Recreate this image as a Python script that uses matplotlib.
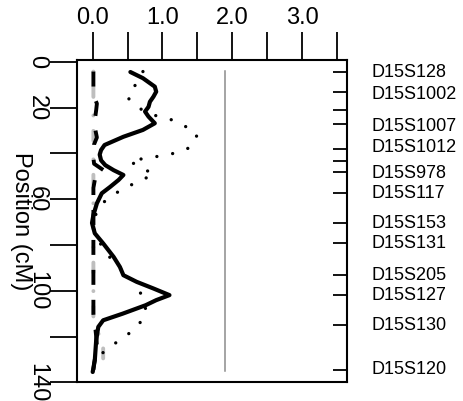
import matplotlib
matplotlib.use("Agg")
import matplotlib.pyplot as plt
import matplotlib.transforms as mtransforms
import numpy as np

plt.rcParams['font.family'] = ['Liberation Sans', 'DejaVu Sans']

# ---- data ----
pos_solid = [4.4, 7.1, 10.8, 13.0, 15.2, 17.4, 19.6, 21.7, 23.9, 26.8, 29.7, 32.7, 36.3,
             38.5, 40.5, 43.0, 45.1, 47.3, 49.4, 51.6, 54.6, 57.4, 61.8, 66.9, 70.4, 74.9,
             79.3, 85.2, 89.6, 93.2, 96.1, 99.0, 101.9, 104.1, 106.3, 110.0, 112.9, 115.8,
             121.6, 130.4, 135.5]
lod_solid = [0.54, 0.72, 0.89, 0.91, 0.87, 0.82, 0.80, 0.75, 0.80, 0.89, 0.72, 0.44, 0.17,
             0.12, 0.10, 0.12, 0.18, 0.30, 0.44, 0.37, 0.25, 0.13, 0.06, 0.01, -0.01, 0.03,
             0.15, 0.30, 0.39, 0.44, 0.63, 0.87, 1.10, 0.91, 0.76, 0.43, 0.15, 0.08,
             0.05, 0.03, 0.00]

pos_dot = [4.2, 10.1, 15.6, 20.3, 23.2, 24.9, 27.6, 31.6, 37.1, 39.7, 41.0, 42.1, 43.3,
           46.1, 49.0, 52.1, 55.0, 58.5, 63.0, 69.5, 76.1, 81.5, 87.4, 96.8, 102.9, 109.2,
           115.4, 119.9, 123.8, 128.2, 132.0]
lod_dot = [0.72, 0.61, 0.50, 0.67, 0.87, 1.10, 1.30, 1.50, 1.42, 1.20, 0.99, 0.75, 0.53,
           0.68, 0.88, 0.67, 0.46, 0.27, 0.09, 0.01, 0.03, 0.16, 0.29, 0.63, 0.71, 0.77,
           0.65, 0.47, 0.28, 0.10, 0.02]

pos_dash = [4.2, 12, 16, 18.2, 21, 23.3, 27, 30, 33, 36, 42, 44.5, 47.4, 50, 55, 65, 80,
            95, 110, 114, 117, 120, 124, 128, 132, 134.5]
lod_dash = [0.01, 0.01, 0.03, 0.06, 0.05, 0.04, 0.02, 0.04, 0.06, 0.02, 0.01, 0.02, 0.16,
            0.04, 0.01, 0.01, 0.01, 0.01, 0.01, 0.02, 0.04, 0.05, 0.06, 0.04, 0.02, 0.01]

pos_dd = [4.2, 60, 100, 112, 116, 118, 121, 125, 130, 134.5]
lod_dd = [0.01, 0.01, 0.01, 0.01, 0.03, 0.07, 0.12, 0.15, 0.15, 0.14]

threshold = 1.9
thr_range = [4.0, 135.0]

marker_pos = [4.2, 13.3, 21.0, 27.3, 38.1, 43.3, 48.3, 57.2, 70.6, 79.1, 93.3, 102.0,
              115.1, 134.5]
label_pos = [4.7, 14.4, 28.0, 37.6, 48.6, 57.3, 70.4, 79.2, 93.2, 101.9, 115.1, 134.3]
label_txt = ["D15S128", "D15S1002", "D15S1007", "D15S1012", "D15S978", "D15S117",
             "D15S153", "D15S131", "D15S205", "D15S127", "D15S130", "D15S120"]

x_ticks = [0.0, 0.5, 1.0, 1.5, 2.0, 2.5, 3.0, 3.5]
x_ticklabels = ["0.0", "", "1.0", "", "2.0", "", "3.0", ""]
y_ticks = [0, 20, 40, 60, 80, 100, 120, 140]
y_ticklabels = ["0", "20", "", "60", "", "100", "", "140"]

# ---- figure ----
fig = plt.figure(figsize=(4.64, 4.01), dpi=100)
ax = fig.add_axes([77 / 464, 1 - 382.3 / 401, (346.7 - 77) / 464, (382.3 - 60) / 401])

ax.plot([threshold, threshold], thr_range, color='#8c8c8c', lw=1.1)

ax.plot(lod_dd, pos_dd, color='#bebebe', lw=2.8, dash_capstyle='round',
        linestyle=(0, (0.01, 3.95, 2.56, 4.77)))
ax.plot(lod_dash, pos_dash, color='black', lw=2.8, dash_capstyle='butt',
        linestyle=(0, (3.85, 3.85)))
ax.plot(lod_dot, pos_dot, color='black', lw=2.4, dash_capstyle='round',
        linestyle=(0, (0.01, 4.8)))
ax.plot(lod_solid, pos_solid, color='black', lw=3.0, solid_capstyle='round',
        solid_joinstyle='round')

ax.set_xlim(-0.225, 3.64)
ax.set_ylim(140, -0.85)

for s in ax.spines.values():
    s.set_linewidth(1.5)

ax.xaxis.tick_top()
ax.set_xticks(x_ticks)
ax.set_xticklabels(x_ticklabels)
ax.tick_params(axis='x', which='major', direction='out', length=20, width=1.3, pad=2,
               labelsize=17, top=True, bottom=False)
ax.tick_params(axis='x', which='minor', top=False, bottom=False)

ax.set_yticks(y_ticks)
ax.set_yticklabels(y_ticklabels, rotation=-90, va='center')
ax.tick_params(axis='y', which='major', direction='out', length=19.5, width=1.3, pad=1.5,
               labelsize=17, left=True, right=False)

# marker ticks on the right side (minor ticks, inward)
ax.set_yticks(marker_pos, minor=True)
ax.tick_params(axis='y', which='minor', direction='in', length=10, width=1.3,
               left=False, right=True, labelleft=False, labelright=False)

trans = mtransforms.blended_transform_factory(ax.transAxes, ax.transData)
for p, t in zip(label_pos, label_txt):
    ax.text((372 - 77) / (346.7 - 77), p, t, transform=trans, ha='left', va='center',
            fontsize=13)

fig.text(21 / 464, 1 - 221 / 401, "Position (cM)", rotation=270, ha='center',
         va='center', fontsize=17)

fig.savefig("out.png", dpi=100)
